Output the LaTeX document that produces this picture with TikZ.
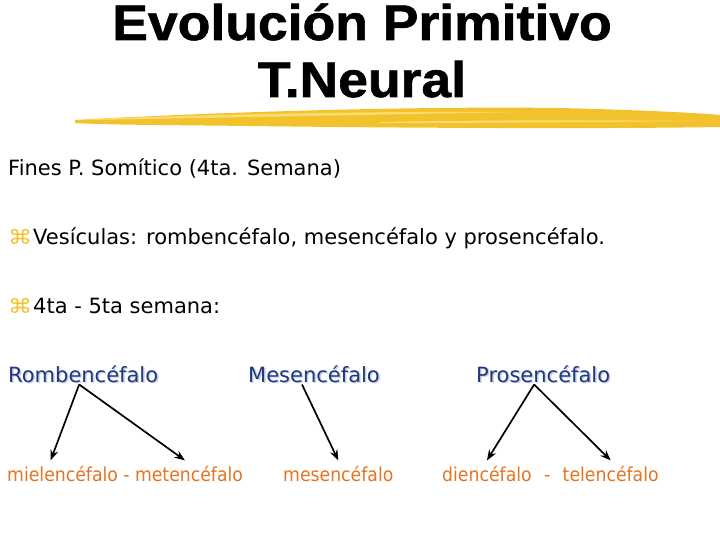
\documentclass[tikz,border=0pt]{standalone}
\usepackage{fontspec}
\setmainfont{DejaVu Sans}
\newfontfamily\condensada{DejaVu Sans Condensed}
\newfontfamily\titlefont[FakeBold=1.2]{Liberation Sans}
\usetikzlibrary{arrows.meta}
\usetikzlibrary{positioning}
\definecolor{azul}{RGB}{31,56,130}
\definecolor{sombra}{RGB}{200,206,222}
\definecolor{naranja}{RGB}{226,116,34}
\definecolor{amarillo}{RGB}{242,194,44}
\definecolor{amarilloclaro}{RGB}{250,220,110}

\begin{document}
\begin{tikzpicture}[>=Stealth, x=1pt, y=-1pt,
	titulo/.style={anchor=base, inner sep=0pt, font=\titlefont\bfseries\fontsize{50}{50}\selectfont},
	texto/.style={anchor=base west, inner sep=0pt, font=\fontsize{21}{25}\selectfont},
	vineta/.style={anchor=base west, inner sep=0pt, text=amarillo, font=\fontsize{21}{22}\selectfont},
	vesicula/.style={anchor=base west, inner sep=0pt, text=azul, font=\fontsize{21}{25}\selectfont},
	vessombra/.style={vesicula, text=sombra},
	derivado/.style={anchor=base west, inner sep=0pt, text=naranja, font=\condensada\fontsize{19.2}{23}\selectfont},
	flecha/.style={->, line width=1.7pt}]

	% Marco
	\useasboundingbox (0,0) rectangle (720,540);

	% Título
	\node[titulo] (titulo1) at (362,40) {\scalebox{1.07}[1]{Evolución Primitivo}};
	\node[titulo] (titulo2) at (362,97) {\scalebox{1.07}[1]{T.Neural}};

	% Trazo amarillo
	\fill[amarillo] (75,120) .. controls (200,113) and (400,106) .. (560,108)
		.. controls (640,110) and (700,113) .. (720,115) -- (720,127)
		.. controls (600,129) and (400,128) .. (250,126)
		.. controls (170,125) and (110,125) .. (75,123) -- cycle;
	\fill[amarilloclaro] (90,119) .. controls (200,115) and (350,111) .. (520,112)
		.. controls (420,114) and (250,117) .. (90,120) -- cycle;
	\fill[amarilloclaro] (380,122) .. controls (480,120) and (600,120) .. (700,121)
		.. controls (600,122) and (480,123) .. (380,123) -- cycle;

	% Texto
	\node[texto] (fines) at (8,176) {Fines P. Somítico (4ta. Semana)};
	\node[vineta] (vineta1) at (8,244) {\scalebox{1.15}[0.95]{⌘}};
	\node[texto] (vesiculas) at (33,244) {Vesículas: rombencéfalo, mesencéfalo y prosencéfalo.};
	\node[vineta] (vineta2) at (8,313) {\scalebox{1.15}[0.95]{⌘}};
	\node[texto] (semana) at (33,313) {4ta - 5ta semana:};

	% Vesículas primarias
	\node[vessombra] at (9.5,383.5) {Rombencéfalo};
	\node[vessombra] at (249.5,383.5) {Mesencéfalo};
	\node[vessombra] at (477.5,383.5) {Prosencéfalo};
	\node[vesicula] (romb) at (8,382) {Rombencéfalo};
	\node[vesicula] (mes) at (248,382) {Mesencéfalo};
	\node[vesicula] (pros) at (476,382) {Prosencéfalo};

	% Vesículas secundarias
	\node[derivado] (miel) at (7,481) {mielencéfalo};
	\node[derivado, right=5pt of miel.base east, anchor=base west] (guion1) {-};
	\node[derivado, right=5pt of guion1.base east, anchor=base west] (meten) {metencéfalo};
	\node[derivado] (mesb) at (283,481) {mesencéfalo};
	\node[derivado] (dien) at (442,481) {diencéfalo};
	\node[derivado, right=12pt of dien.base east, anchor=base west] (guion2) {-};
	\node[derivado, right=12pt of guion2.base east, anchor=base west] (telen) {telencéfalo};

	% Flechas
	\draw[flecha] ([xshift=-4pt,yshift=-2pt]romb.south) -- ([xshift=-12pt,yshift=5pt]miel.north);
	\draw[flecha] ([xshift=-4pt,yshift=-2pt]romb.south) -- ([xshift=-4pt,yshift=5pt]meten.north);
	\draw[flecha] ([xshift=-12pt,yshift=-2pt]mes.south) -- ([xshift=0pt,yshift=5pt]mesb.north);
	\draw[flecha] ([xshift=-9pt,yshift=-2pt]pros.south) -- ([xshift=0pt,yshift=5pt]dien.north);
	\draw[flecha] ([xshift=-9pt,yshift=-2pt]pros.south) -- ([xshift=0pt,yshift=5pt]telen.north);

\end{tikzpicture}
\end{document}
